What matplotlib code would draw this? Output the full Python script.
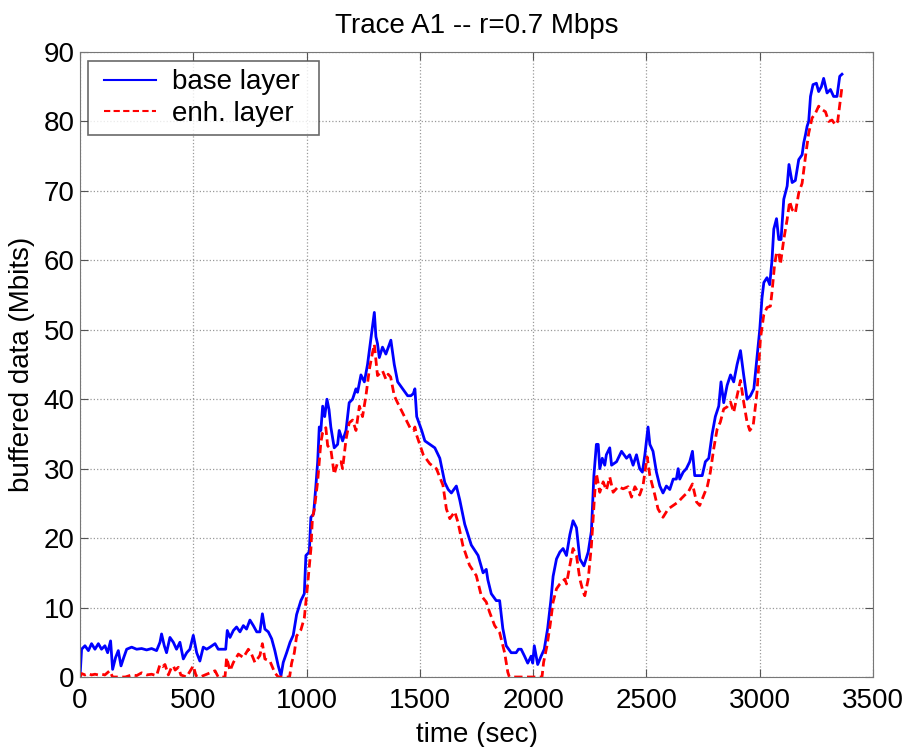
import numpy as np
import matplotlib
matplotlib.use("Agg")
import matplotlib.pyplot as plt
from matplotlib.lines import Line2D
from matplotlib.legend_handler import HandlerLine2D

plt.rcParams['font.family'] = ['Liberation Sans', 'DejaVu Sans']

# base layer buffer (time in sec, Mbits)
base_t = [0, 7, 22, 37, 51, 66, 81, 95, 110, 122, 135, 144, 157, 169, 181, 193, 206, 228, 250, 272,
          294, 316, 338, 353, 360, 372, 382, 397, 412, 426, 441, 456, 471, 485, 500, 515, 529, 544, 559, 574,
          596, 610, 632, 643, 650, 662, 677, 691, 706, 721, 735, 750, 765, 780, 794, 805, 816, 831, 846, 860,
          875, 887, 897, 912, 927, 941, 956, 975, 990, 997, 1012, 1019, 1031, 1041, 1049, 1056, 1063, 1071, 1080, 1090,
          1099, 1107, 1122, 1137, 1144, 1159, 1174, 1188, 1203, 1218, 1225, 1240, 1255, 1269, 1277, 1285, 1299, 1306, 1313, 1321,
          1335, 1350, 1372, 1387, 1402, 1424, 1446, 1460, 1471, 1478, 1486, 1508, 1522, 1544, 1566, 1588, 1610, 1625, 1639, 1661,
          1676, 1698, 1727, 1757, 1779, 1793, 1800, 1815, 1837, 1852, 1866, 1881, 1903, 1925, 1935, 1947, 1962, 1976, 1991, 1998,
          2005, 2020, 2035, 2049, 2064, 2078, 2088, 2103, 2118, 2132, 2147, 2162, 2176, 2191, 2206, 2224, 2243, 2257, 2268, 2279,
          2287, 2294, 2305, 2316, 2323, 2338, 2346, 2368, 2390, 2412, 2426, 2441, 2456, 2470, 2482, 2493, 2507, 2515, 2529, 2544,
          2559, 2573, 2588, 2603, 2618, 2632, 2640, 2647, 2662, 2676, 2691, 2703, 2713, 2731, 2746, 2760, 2775, 2790, 2804, 2819,
          2829, 2841, 2856, 2871, 2885, 2900, 2915, 2929, 2944, 2959, 2974, 2988, 3000, 3010, 3018, 3032, 3044, 3054, 3062, 3074,
          3084, 3094, 3106, 3121, 3129, 3143, 3157, 3172, 3187, 3194, 3202, 3209, 3216, 3224, 3235, 3250, 3260, 3272, 3282, 3297,
          3312, 3326, 3341, 3353, 3363]
base_mb = [0, 4.0, 4.5, 3.8, 4.8, 4.0, 4.8, 4.0, 4.5, 3.5, 5.2, 1.1, 2.8, 3.8, 1.6, 2.8, 4.0, 4.3, 4.0, 4.1,
           3.9, 4.1, 3.8, 5.0, 6.2, 4.5, 3.5, 5.7, 5.0, 4.0, 5.0, 2.6, 3.5, 4.0, 6.0, 3.5, 2.3, 4.3, 4.0, 4.3,
           4.8, 4.0, 4.0, 4.0, 6.7, 5.7, 6.7, 7.2, 6.5, 7.4, 6.9, 8.2, 7.4, 6.5, 6.5, 9.1, 6.9, 6.5, 5.5, 3.8,
           1.6, 0.2, 2.1, 3.5, 5.0, 6.0, 9.0, 11.0, 12.0, 17.5, 18.0, 23.0, 23.5, 27.5, 31.0, 36.0, 35.5, 39.0, 37.5, 40.0,
           38.5, 36.0, 33.0, 33.5, 35.5, 34.0, 35.5, 39.5, 40.0, 41.5, 41.0, 43.5, 42.5, 45.0, 47.0, 49.0, 52.5, 49.0, 48.0, 46.0,
           47.5, 46.5, 48.5, 45.0, 42.5, 41.5, 40.5, 40.5, 40.8, 41.5, 37.5, 35.5, 34.0, 33.5, 33.0, 31.5, 28.0, 27.0, 26.5, 27.5,
           25.5, 22.0, 19.0, 17.5, 15.0, 15.5, 14.0, 12.0, 11.0, 11.0, 7.0, 4.5, 3.5, 3.5, 4.0, 4.0, 3.0, 2.0, 3.0, 2.0,
           4.5, 1.8, 3.0, 4.0, 7.0, 11.0, 14.5, 17.0, 18.0, 18.5, 17.5, 20.5, 22.5, 21.5, 17.0, 16.0, 18.0, 21.0, 29.0, 33.5,
           33.5, 30.0, 31.5, 30.5, 32.0, 33.0, 30.5, 31.0, 32.5, 31.5, 32.0, 30.5, 32.0, 30.0, 29.5, 32.0, 36.0, 33.5, 32.5, 29.5,
           27.5, 26.5, 27.5, 27.0, 28.5, 28.5, 30.0, 28.5, 29.5, 30.0, 31.0, 32.5, 29.0, 29.0, 29.0, 31.0, 31.5, 35.0, 37.5, 39.0,
           42.5, 39.5, 42.0, 43.5, 42.5, 45.0, 47.0, 43.5, 40.0, 40.5, 41.5, 46.0, 50.0, 54.6, 56.8, 57.5, 56.5, 60.0, 64.5, 66.0,
           63.0, 63.0, 68.8, 70.7, 73.8, 71.2, 71.5, 74.5, 75.2, 76.9, 78.1, 79.3, 80.0, 83.6, 85.3, 85.5, 84.3, 85.0, 86.2, 84.1,
           84.6, 83.6, 83.6, 86.5, 86.8]

# enhancement layer buffer (time in sec, Mbits)
enh_t = [0, 7, 22, 37, 51, 66, 81, 95, 110, 131, 144, 200, 228, 250, 272, 294, 316, 338, 353, 365,
         375, 390, 404, 412, 420, 434, 445, 470, 500, 512, 530, 596, 610, 640, 647, 662, 677, 699, 721, 743,
         757, 772, 794, 805, 816, 838, 860, 875, 925, 934, 946, 956, 975, 990, 1004, 1019, 1026, 1034, 1049, 1063,
         1071, 1085, 1093, 1107, 1122, 1137, 1152, 1159, 1174, 1188, 1203, 1218, 1233, 1247, 1262, 1277, 1291, 1299, 1310, 1313,
         1335, 1350, 1360, 1371, 1387, 1400, 1429, 1458, 1473, 1478, 1486, 1515, 1544, 1573, 1602, 1617, 1632, 1654, 1668, 1690,
         1719, 1749, 1771, 1793, 1808, 1830, 1852, 1874, 1888, 1895, 2039, 2046, 2061, 2075, 2088, 2103, 2118, 2140, 2147, 2162,
         2176, 2191, 2206, 2221, 2228, 2243, 2257, 2272, 2279, 2294, 2309, 2323, 2338, 2353, 2375, 2397, 2419, 2434, 2449, 2470,
         2485, 2503, 2515, 2537, 2551, 2573, 2596, 2618, 2640, 2654, 2669, 2684, 2703, 2721, 2735, 2769, 2782, 2797, 2812, 2826,
         2841, 2856, 2871, 2885, 2900, 2915, 2929, 2944, 2956, 2971, 2988, 3003, 3018, 3032, 3047, 3054, 3065, 3074, 3084, 3091,
         3106, 3121, 3132, 3143, 3157, 3172, 3187, 3202, 3216, 3231, 3246, 3260, 3275, 3290, 3304, 3319, 3334, 3344, 3356, 3363]
enh_mb = [0, 0.5, 0.3, 0.5, 0.3, 0.4, 0.3, 0.4, 0.3, 0.9, 0, 0, 0.3, 0.2, 0.6, 0.3, 0.4, 0.2, 1.8, 1.5,
          1.8, 0.3, 1.4, 1.6, 1.0, 1.4, 0.3, 0, 1.6, 0.2, 0, 0.9, 0, 0, 2.8, 0.9, 2.1, 3.3, 2.8, 4.0,
          3.3, 2.1, 3.1, 4.8, 2.6, 2.3, 0.6, 0, 0, 2.0, 3.5, 5.9, 6.8, 8.5, 13.1, 18.4, 23.0, 24.1, 28.2, 33.8,
          35.2, 35.9, 33.3, 32.8, 29.2, 30.9, 31.0, 30.0, 34.2, 36.6, 37.0, 35.5, 39.0, 37.5, 40.5, 44.3, 46.7, 47.9, 44.3, 43.4,
          44.1, 42.9, 43.6, 43.2, 40.5, 39.6, 37.7, 35.8, 35.5, 36.0, 34.8, 32.0, 30.7, 30.0, 27.6, 24.2, 22.8, 23.8, 22.3, 18.9,
          16.1, 14.6, 11.7, 10.8, 9.3, 7.4, 6.4, 3.5, 0.7, 0, 0, 2.1, 4.5, 7.5, 10.8, 12.7, 13.4, 14.1, 13.4, 16.1,
          18.5, 17.5, 14.1, 12.2, 11.7, 14.1, 18.9, 26.6, 29.3, 26.6, 28.1, 26.9, 28.8, 26.6, 27.4, 27.1, 27.4, 25.9, 27.4, 26.2,
          27.6, 31.7, 29.0, 26.2, 24.2, 23.0, 24.2, 24.7, 25.2, 25.7, 26.2, 26.6, 27.8, 25.2, 24.7, 27.5, 29.5, 32.9, 35.7, 36.7,
          38.6, 38.9, 39.6, 38.1, 40.5, 42.7, 39.6, 36.7, 35.5, 36.2, 41.0, 48.7, 52.2, 53.2, 53.4, 55.4, 59.2, 61.1, 61.1, 59.4,
          63.0, 65.9, 68.5, 67.3, 66.8, 69.7, 71.1, 75.0, 78.3, 80.5, 81.2, 82.2, 81.7, 81.4, 80.0, 80.2, 79.5, 80.0, 83.1, 85.0]


class InsetLine(HandlerLine2D):
    # legend sample line that starts a bit in from the left of its box
    def get_xdata(self, legend, xdescent, ydescent, width, height, fontsize):
        xd, xm = super().get_xdata(legend, xdescent, ydescent, width, height, fontsize)
        xd = np.asarray(xd, dtype=float).copy()
        xd[0] += 0.29 * fontsize
        return xd, xm


fig = plt.figure(figsize=(9.08, 7.47), dpi=100)
ax = fig.add_axes([0.0881, 0.0937, 0.8734, 0.8367])

ax.plot(base_t, base_mb, color='#0000ff', lw=2, label='base layer')
ax.plot(enh_t, enh_mb, color='#ff0000', lw=2, dashes=(3, 1.6), label='enh. layer')

ax.set_xlim(0, 3500)
ax.set_ylim(0, 90)
ax.set_xticks(range(0, 3501, 500))
ax.set_yticks(range(0, 91, 10))
ax.grid(True, linestyle=':', color='#999999', lw=0.9)
ax.tick_params(direction='in', top=True, right=True, labelsize=20, length=6, color='#555555')
ax.tick_params(axis='x', pad=8)
ax.tick_params(axis='y', pad=4)
for sp in ax.spines.values():
    sp.set_color('#777777')

ax.set_xlabel('time (sec)', fontsize=20, labelpad=6)
ax.set_ylabel('buffered data (Mbits)', fontsize=20, labelpad=6)
ax.set_title('Trace A1 -- r=0.7 Mbps', fontsize=20, pad=14)

leg = ax.legend(loc='upper left', bbox_to_anchor=(0.0101, 0.0, 0.2913, 0.9856), mode='expand',
                fontsize=20, handlelength=2.16, handletextpad=0.58, borderaxespad=0,
                labelspacing=0.2, borderpad=0.3, fancybox=False,
                handler_map={Line2D: InsetLine()})
leg.get_frame().set_edgecolor('#444444')
leg.get_frame().set_linewidth(1.2)
for ln in leg.get_lines():
    ln.set_linewidth(1.5)

fig.savefig('out.png', dpi=100)
